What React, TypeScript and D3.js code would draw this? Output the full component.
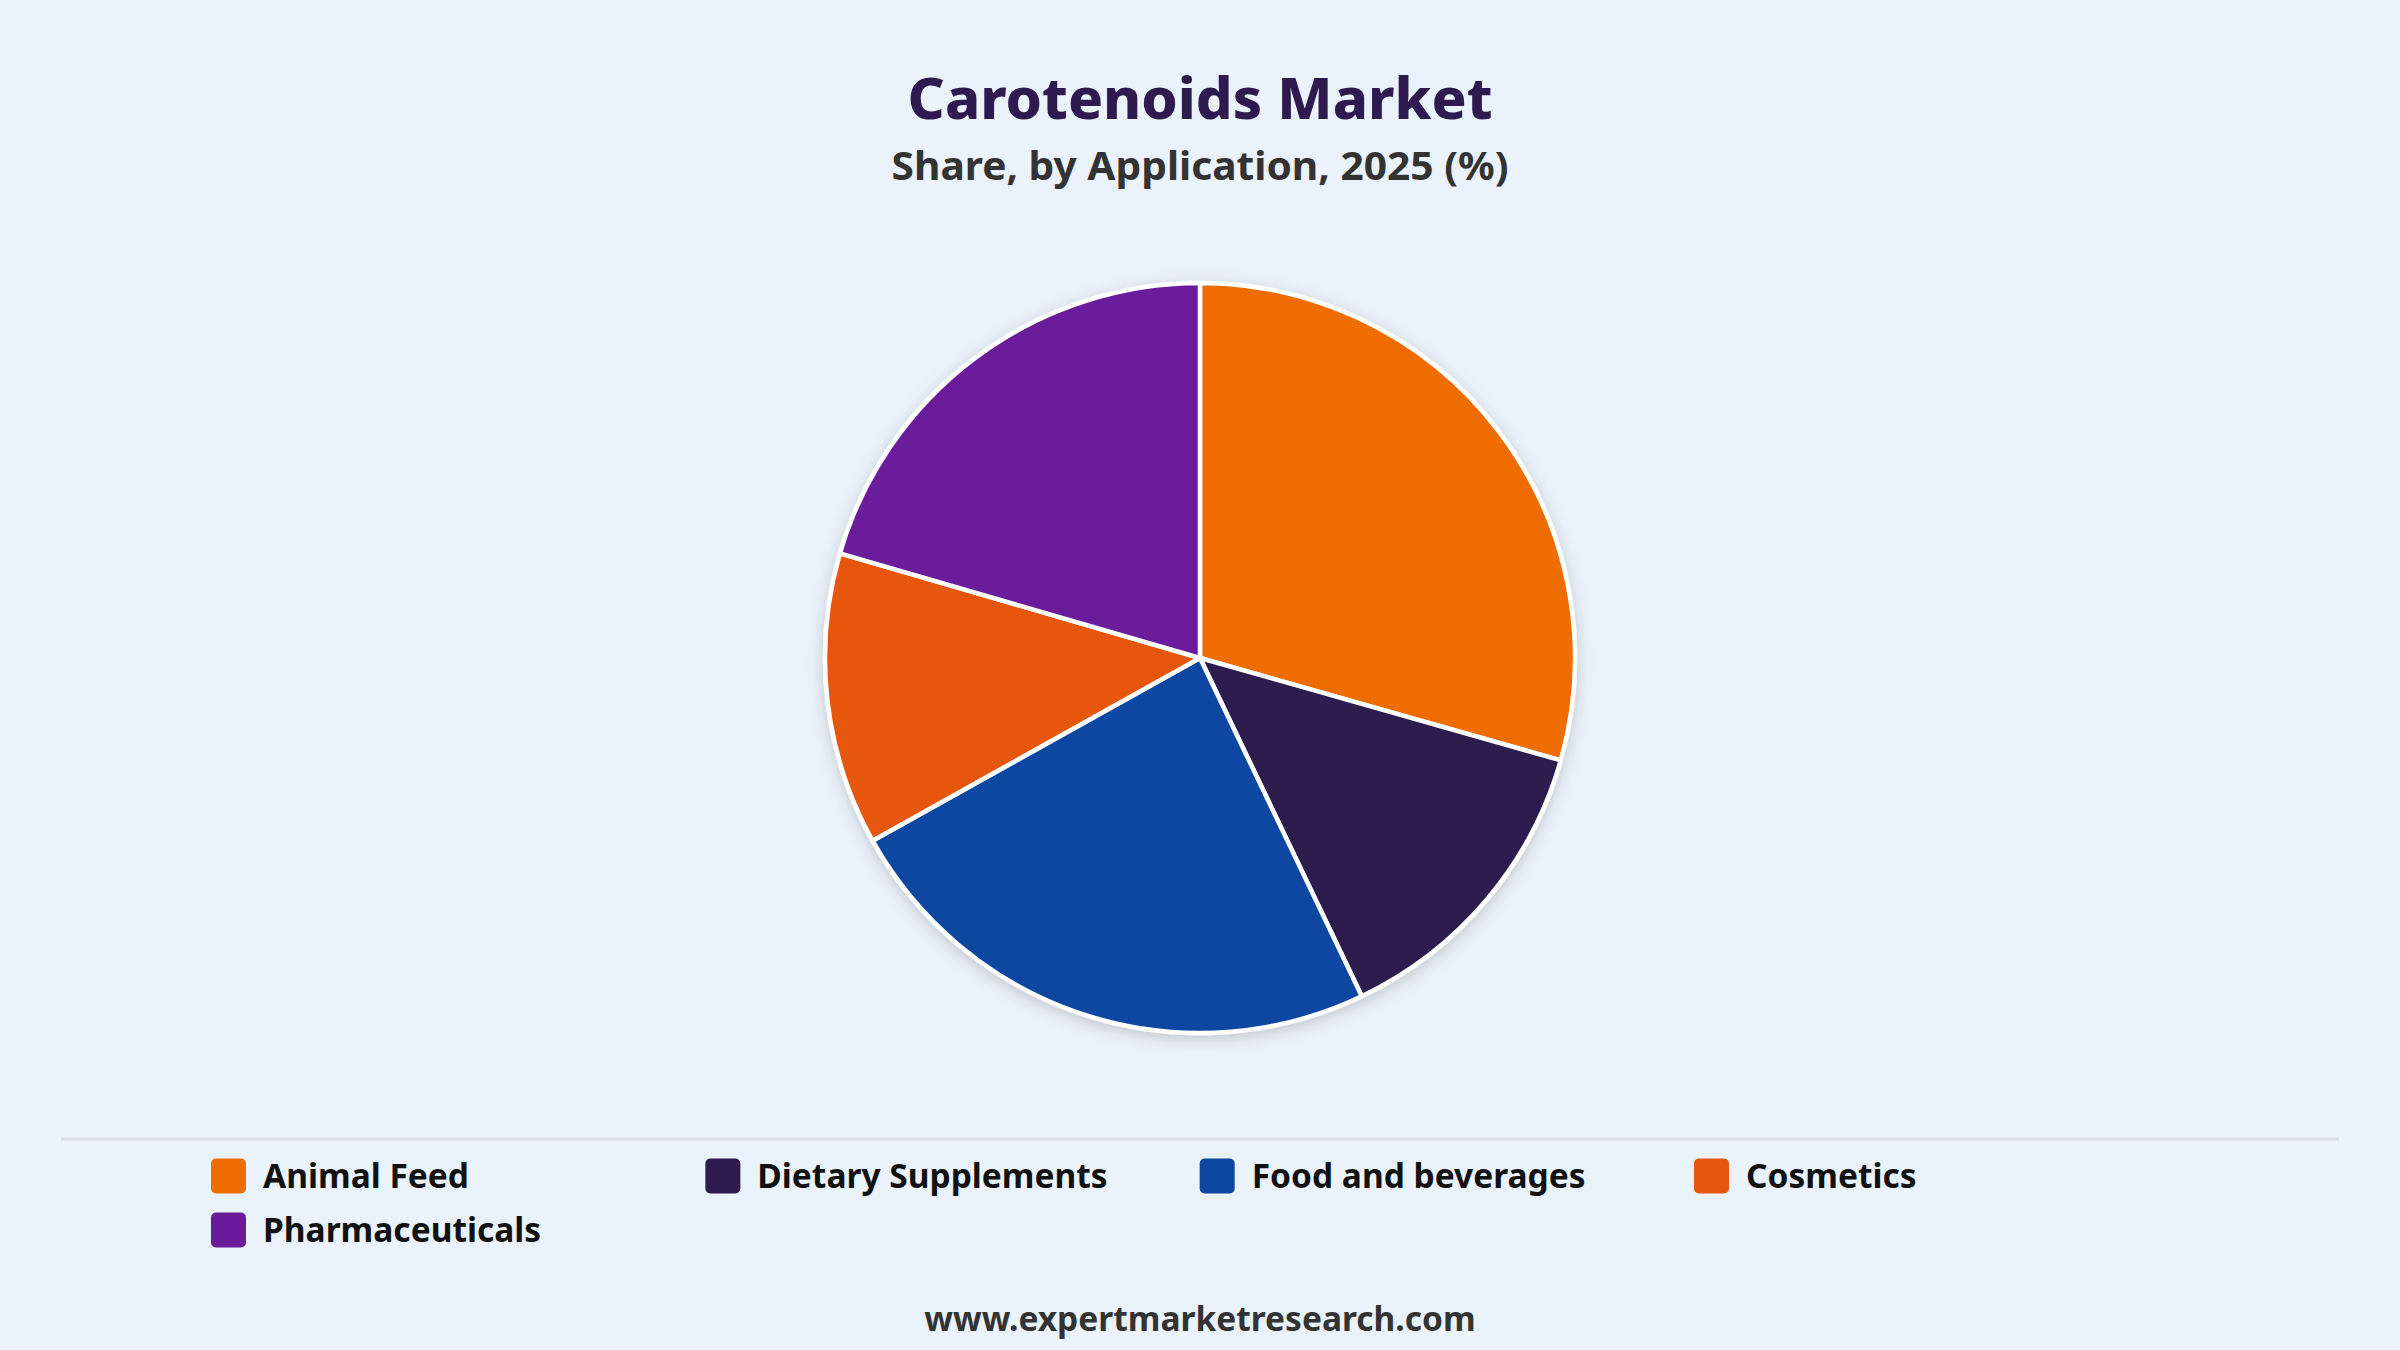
import React, { useEffect, useRef } from "react";
import * as d3 from "d3";

// chart data
const categories = [
  "Animal Feed",
  "Dietary Supplements",
  "Food and beverages",
  "Cosmetics",
  "Pharmaceuticals",
];
const shares = [29.4, 13.5, 24.0, 12.6, 20.5];
const colors = ["#EF6C00", "#2E1A4F", "#0D47A1", "#E65710", "#6A1B9A"];

const W = 2400;
const H = 1350;
const FONT = "'Noto Sans', 'Open Sans', sans-serif";

export default function App() {
  const ref = useRef<SVGSVGElement | null>(null);

  useEffect(() => {
    document.body.style.margin = "0";
    const svg = d3.select(ref.current!);
    svg.selectAll("*").remove();

    svg.append("rect").attr("width", W).attr("height", H).attr("fill", "#EAF2FB");

    // drop shadow for the pie
    const defs = svg.append("defs");
    const f = defs
      .append("filter")
      .attr("id", "pieShadow")
      .attr("x", "-20%")
      .attr("y", "-20%")
      .attr("width", "140%")
      .attr("height", "140%");
    f.append("feDropShadow")
      .attr("dx", 0)
      .attr("dy", 4)
      .attr("stdDeviation", 8)
      .attr("flood-color", "#000")
      .attr("flood-opacity", 0.18);

    // titles
    svg
      .append("text")
      .attr("x", W / 2)
      .attr("y", 119)
      .attr("text-anchor", "middle")
      .attr("font-family", FONT)
      .attr("font-weight", 800)
      .attr("font-size", 57)
      .attr("fill", "#2E1A4F")
      .attr("textLength", 585)
      .attr("lengthAdjust", "spacingAndGlyphs")
      .text("Carotenoids Market");

    svg
      .append("text")
      .attr("x", W / 2)
      .attr("y", 180)
      .attr("text-anchor", "middle")
      .attr("font-family", FONT)
      .attr("font-weight", 700)
      .attr("font-size", 40)
      .attr("fill", "#333333")
      .attr("textLength", 617)
      .attr("lengthAdjust", "spacingAndGlyphs")
      .text("Share, by Application, 2025 (%)");

    // pie
    const cx = 1200;
    const cy = 658;
    const r = 375;
    const pie = d3
      .pie<number>()
      .sort(null)
      .value((d) => d);
    const arc = d3.arc<d3.PieArcDatum<number>>().innerRadius(0).outerRadius(r);

    const g = svg
      .append("g")
      .attr("transform", `translate(${cx},${cy})`)
      .attr("filter", "url(#pieShadow)");
    g.selectAll("path")
      .data(pie(shares))
      .join("path")
      .attr("d", arc)
      .attr("fill", (_, i) => colors[i])
      .attr("stroke", "#ffffff")
      .attr("stroke-width", 4.5)
      .attr("stroke-linejoin", "round");

    // separator
    svg
      .append("line")
      .attr("x1", 61)
      .attr("x2", 2339)
      .attr("y1", 1139)
      .attr("y2", 1139)
      .attr("stroke", "#D9DEE5")
      .attr("stroke-width", 3);

    // legend
    const colX = d3.scalePoint<number>().domain([0, 1, 2, 3]).range([211, 1694]);
    const rowY = [1176, 1230];
    const leg = svg
      .append("g")
      .selectAll("g")
      .data(categories)
      .join("g")
      .attr("transform", (_, i) => `translate(${colX(i % 4)},${rowY[Math.floor(i / 4)]})`);
    leg
      .append("rect")
      .attr("x", 0)
      .attr("y", -17.5)
      .attr("width", 35)
      .attr("height", 35)
      .attr("rx", 5)
      .attr("fill", (_, i) => colors[i]);
    leg
      .append("text")
      .attr("x", 52)
      .attr("y", 12)
      .attr("font-family", FONT)
      .attr("font-weight", 700)
      .attr("font-size", 33.5)
      .attr("fill", "#111111")
      .text((d) => d);

    // footer
    svg
      .append("text")
      .attr("x", W / 2)
      .attr("y", 1331)
      .attr("text-anchor", "middle")
      .attr("font-family", FONT)
      .attr("font-weight", 700)
      .attr("font-size", 33.5)
      .attr("fill", "#333333")
      .text("www.expertmarketresearch.com");
  }, []);

  return <svg ref={ref} width={W} height={H} style={{ display: "block" }} />;
}
